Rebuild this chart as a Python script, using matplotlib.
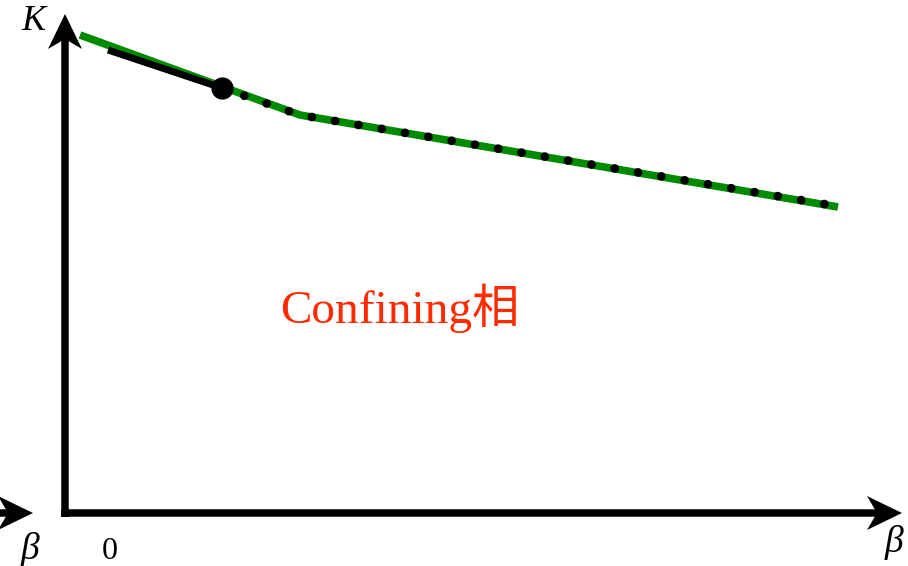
import numpy as np
import matplotlib.pyplot as plt
from matplotlib.patches import Polygon

# 相图数据 (β, K)
beta_green = [0.15, 2.35, 7.73]
K_green = [4.78, 3.98, 3.06]
beta_solid = [0.43, 1.57]
K_solid = [4.63, 4.25]
beta_dotted = [1.57, 2.35, 7.71]
K_dotted = [4.25, 3.98, 3.07]
beta_end = 1.57
K_end = 4.25

plt.rcParams['font.family'] = ['Liberation Serif', 'Noto Sans CJK SC', 'DejaVu Sans']

fig = plt.figure(figsize=(9.08, 5.66), dpi=100)
ax = fig.add_axes([0, 0, 1, 1])
ax.set_xlim(-0.65, 8.43)
ax.set_ylim(-0.53, 5.13)
ax.axis('off')


# 带凹口的箭头 (stealth)
def stealth_arrow(x0, y0, x1, y1, lw=0.075, hl=0.35, hw=0.17, notch=0.1):
    d = np.array([x1 - x0, y1 - y0], dtype=float)
    d /= np.hypot(*d)
    n = np.array([-d[1], d[0]])
    tip = np.array([x1, y1])
    base = tip - d * hl
    ax.plot([x0, base[0] + d[0] * notch], [y0, base[1] + d[1] * notch],
            color='k', lw=lw * 100 * 0.72, solid_capstyle='butt')
    pts = [tip, base + n * hw, base + d * notch, base - n * hw]
    ax.add_patch(Polygon(pts, closed=True, color='k', lw=0))


stealth_arrow(0, -0.04, 0, 4.99)
stealth_arrow(-0.04, 0, 8.37, 0)
stealth_arrow(-0.66, 0, -0.32, 0)

# 相变线
ax.plot(beta_green, K_green, color='#008a00', lw=5.5, solid_capstyle='butt')
ax.plot(beta_solid, K_solid, color='k', lw=5, solid_capstyle='butt')
ax.plot(beta_dotted, K_dotted, color='k', lw=6.3, linestyle=(0, (0.001, 2.7)),
        dash_capstyle='round')
ax.plot([beta_end], [K_end], 'o', color='k', markersize=15)

ax.text(-0.315, 4.91, 'K', fontsize=26, style='italic', ha='center', va='center')
ax.text(-0.355, -0.19, 'β', fontsize=27, style='italic', ha='center', va='top')
ax.text(8.29, -0.12, 'β', fontsize=27, style='italic', ha='center', va='top')
ax.text(0.45, -0.528, '0', fontsize=23, ha='center', va='bottom')
ax.text(3.35, 2.05, 'Confining相', fontsize=34, color='#ff2a00', ha='center', va='center')

fig.savefig('out.png', dpi=100)
